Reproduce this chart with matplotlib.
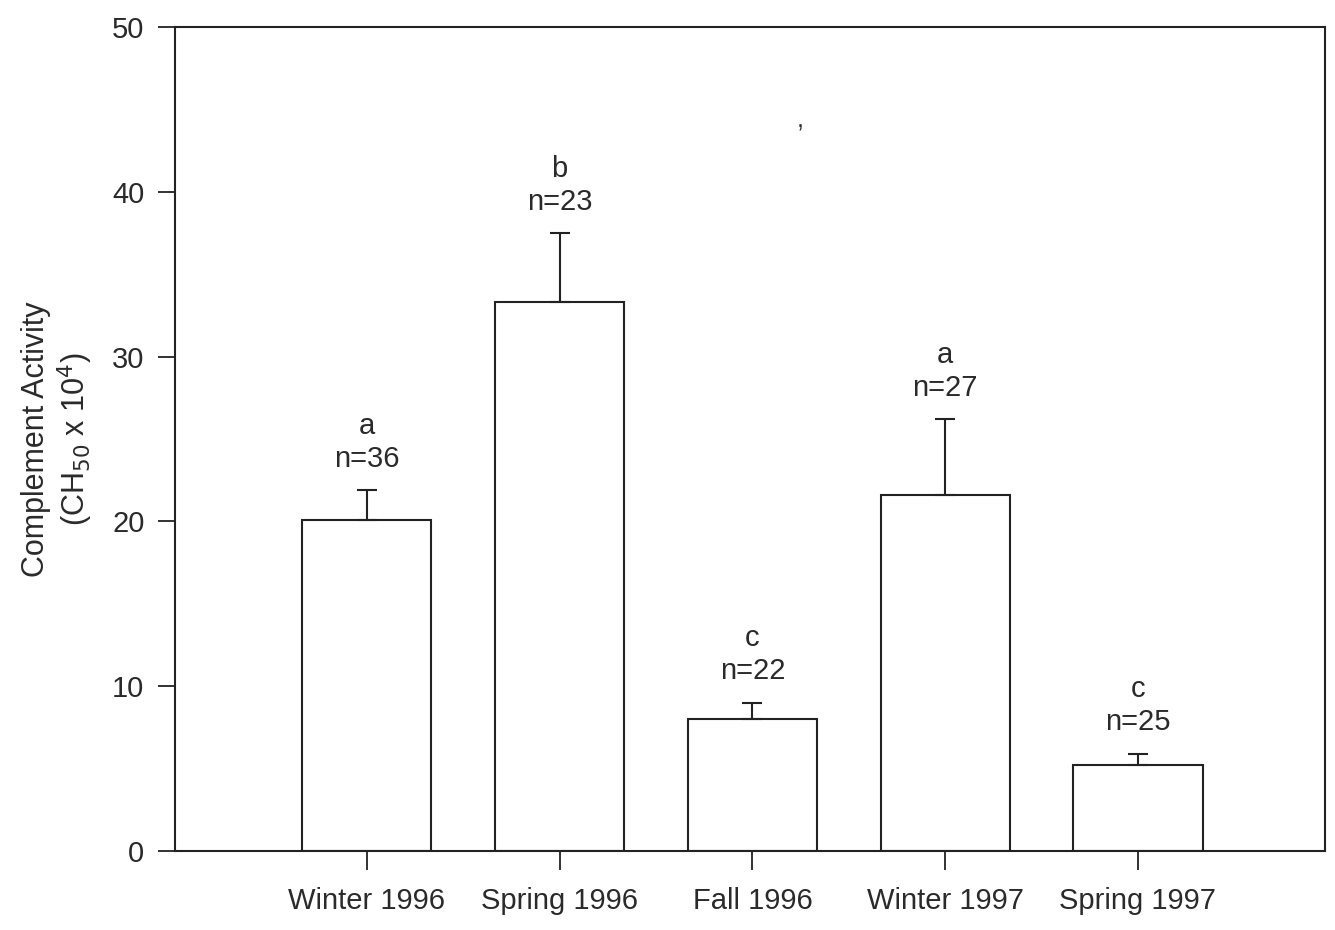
import matplotlib
matplotlib.use("Agg")
import matplotlib.pyplot as plt
import numpy as np

categories = ["Winter 1996", "Spring 1996", "Fall 1996", "Winter 1997", "Spring 1997"]
means = [20.1, 33.3, 8.0, 21.6, 5.2]
errors = [1.8, 4.2, 1.0, 4.6, 0.7]
letters = ["a", "b", "c", "a", "c"]
ns = [36, 23, 22, 27, 25]
yticks = [0, 10, 20, 30, 40, 50]

plt.rcParams['font.family'] = ['Liberation Sans', 'DejaVu Sans']
tc = '#2a2a2a'
fs = 21

fig = plt.figure(figsize=(13.35, 9.3), dpi=100)
ax = fig.add_axes([175/1335, 1-851/930, 1150/1335, (851-27)/930])

x = np.arange(len(categories))
ax.bar(x, means, width=0.67, color='white', edgecolor='#222222', linewidth=1.5,
       yerr=[np.zeros(len(errors)), errors], capsize=7,
       error_kw=dict(ecolor='#222222', elinewidth=1.5, capthick=1.5))

for xi, m, e, l, n in zip(x, means, errors, letters, ns):
    top = m + e
    ax.text(xi, top + 1.9, f"n={n}", ha='center', va='center', fontsize=fs, color=tc)
    ax.text(xi, top + 3.9, l, ha='center', va='center', fontsize=fs, color=tc)

ax.text(2.25, 44.3, ",", ha='center', va='center', fontsize=18, color=tc)

ax.set_xlim(-0.995, 4.97)
ax.set_ylim(0, 50)
ax.set_xticks(x)
ax.set_xticklabels(categories, fontsize=fs, color=tc)
ax.set_yticks(yticks)
ax.set_yticklabels([str(t) for t in yticks], fontsize=fs, color=tc)
ax.tick_params(axis='y', direction='out', length=12, width=1.3, color='#222222', pad=10)
ax.tick_params(axis='x', direction='out', length=14, width=1.3, color='#222222', pad=12)
for s in ax.spines.values():
    s.set_linewidth(1.5)
    s.set_color('#222222')

ax.set_ylabel("Complement Activity\n(CH$_{50}$ x 10$^4$)", fontsize=22, color=tc,
              linespacing=1.15, labelpad=12)

fig.savefig("out.png", dpi=100)
